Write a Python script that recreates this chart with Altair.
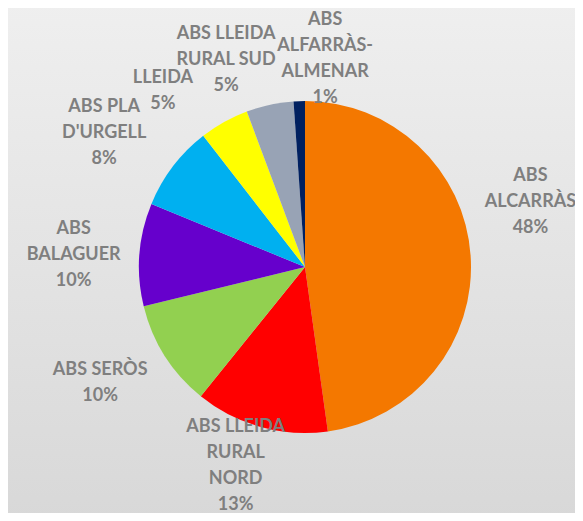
import altair as alt
import pandas as pd

# Data
names = [
    ["ABS", "ALCARRÀS"],
    ["ABS LLEIDA", "RURAL", "NORD"],
    ["ABS SERÒS"],
    ["ABS", "BALAGUER"],
    ["ABS PLA", "D'URGELL"],
    ["LLEIDA"],
    ["ABS LLEIDA", "RURAL SUD"],
    ["ABS", "ALFARRÀS-", "ALMENAR"],
]
values = [47.8, 13.0, 10.4, 10.0, 8.3, 4.8, 4.6, 1.1]
colors = ["#F47800", "#FF0000", "#92D050", "#6600CC", "#00B0F0", "#FFFF00", "#98A3B5", "#002060"]

total = sum(values)
labels = ["\n".join(n + [f"{round(v / total * 100)}%"]) for n, v in zip(names, values)]
keys = [" ".join(n) for n in names]

df = pd.DataFrame({"key": keys, "value": values, "label": labels, "idx": list(range(len(values)))})

W, H = 567, 505
CX, CY = 297, 259
LH = 26
# best-fit style label offsets (like the reference's label placement)
label_offsets = [(0, -49), (-9, -19), (-14, -5), (-6, 5), (-21, 3), (-32, 21), (-31, 14), (28, 18)]

bg = alt.Chart(pd.DataFrame({"a": [0]})).mark_rect(
    color=alt.Gradient(
        gradient="linear",
        stops=[alt.GradientStop(color="#EFEFEF", offset=0), alt.GradientStop(color="#D8D8D8", offset=1)],
        x1=0, x2=0, y1=0, y2=1,
    )
).encode(x=alt.value(-8), x2=alt.value(W + 8), y=alt.value(-8), y2=alt.value(H + 8))

base = alt.Chart(df).encode(
    theta=alt.Theta("value:Q", stack=True),
    order=alt.Order("idx:Q"),
    x=alt.value(CX),
    y=alt.value(CY),
)

pie = base.mark_arc(radius=166).encode(
    color=alt.Color("key:N", scale=alt.Scale(domain=keys, range=colors), legend=None)
)

layers = [bg, pie]
for i, (lab, (ddx, ddy)) in enumerate(zip(labels, label_offsets)):
    n = lab.count("\n") + 1
    layers.append(
        base.mark_text(
            radius=226, font="Lato", fontSize=18, fontWeight="bold", color="#7F7F7F",
            lineBreak="\n", lineHeight=LH, align="center", baseline="middle",
            dx=ddx, dy=-(n - 1) * LH / 2 + ddy,
        ).encode(text=alt.condition(alt.datum.idx == i, "label:N", alt.value("")))
    )

chart = alt.layer(*layers).properties(
    width=W, height=H, padding=0, autosize=alt.AutoSizeParams(type="none")
).configure_view(strokeWidth=0).configure(background="#E6E6E6")

chart.save("out.html", embed_options={"renderer": "svg", "actions": False})
